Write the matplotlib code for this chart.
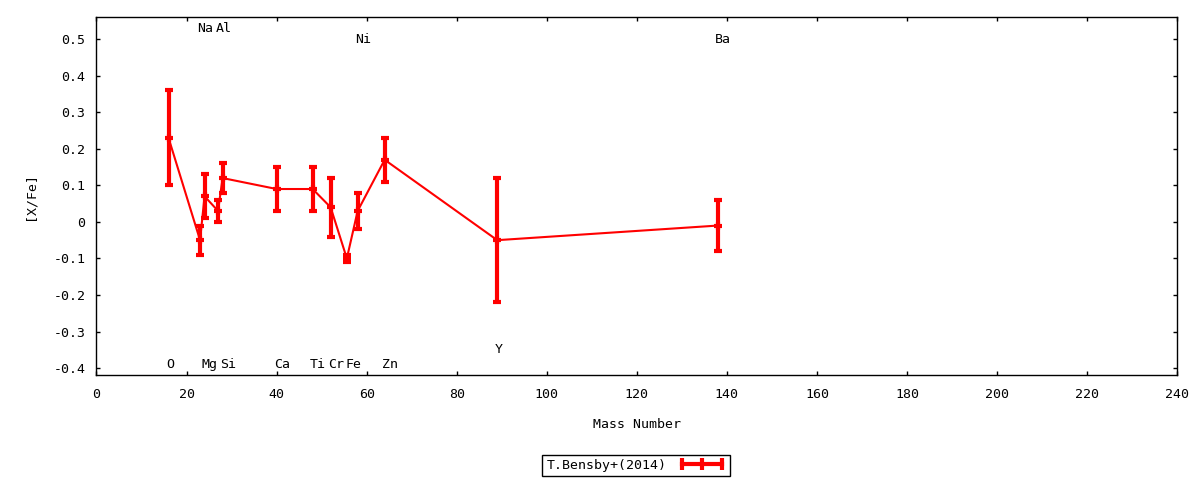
import numpy as np
import matplotlib
matplotlib.use('Agg')
import matplotlib.pyplot as plt
from matplotlib.lines import Line2D
from matplotlib.ticker import MultipleLocator, FuncFormatter

# abundances (T.Bensby+ 2014)
elements = ['O', 'Na', 'Mg', 'Al', 'Si', 'Ca', 'Ti', 'Cr', 'Fe', 'Ni', 'Zn', 'Y', 'Ba']
mass = [16, 23, 24, 27, 28, 40, 48, 52, 55.6, 58, 64, 89, 138]
xfe = [0.23, -0.05, 0.07, 0.03, 0.12, 0.09, 0.09, 0.04, -0.10, 0.03, 0.17, -0.05, -0.01]
err = [0.13, 0.04, 0.06, 0.03, 0.04, 0.06, 0.06, 0.08, 0.01, 0.05, 0.06, 0.17, 0.07]

# element label heights (gnuplot style labels above / below the points)
label_y = [-0.39, 0.53, -0.39, 0.53, -0.39, -0.39, -0.39, -0.39, -0.39, 0.50, -0.39, -0.35, 0.50]

plt.rcParams['font.family'] = ['DejaVu Sans Mono']
plt.rcParams['font.size'] = 9.5

fig = plt.figure(figsize=(12, 4.8), dpi=100)
ax = fig.add_axes([0.0804, 0.218, 0.9006, 0.746])

ax.errorbar(mass, xfe, yerr=err, color='red', lw=1.5, elinewidth=3,
            capsize=3, capthick=3, marker='+', ms=6, mew=3)

for el, m, ly in zip(elements, mass, label_y):
    x = round(m)
    ax.annotate(el, (x, ly), xytext=(-2, 0), textcoords='offset points',
                ha='left', va='center', fontsize=9.5)

ax.set_xlim(0, 240)
ax.set_ylim(-0.42, 0.56)
ax.xaxis.set_major_locator(MultipleLocator(20))
ax.yaxis.set_major_locator(MultipleLocator(0.1))
ax.yaxis.set_major_formatter(FuncFormatter(lambda v, p: f'{round(v, 1):g}'))
ax.tick_params(direction='in', length=3, width=1, top=True, right=True)
ax.tick_params(axis='y', pad=8)
ax.tick_params(axis='x', pad=9)
for s in ax.spines.values():
    s.set_linewidth(1)

ax.set_xlabel('Mass Number', labelpad=12)
ax.set_ylabel('[X/Fe]', labelpad=12)

handle = Line2D([], [], color='red', lw=3, marker='|', ms=8, mew=3)
leg = fig.legend([handle], ['T.Bensby+(2014)'], loc='center',
                 bbox_to_anchor=(0.53, 0.031), numpoints=3, markerfirst=False,
                 fancybox=False, framealpha=1, edgecolor='black',
                 handlelength=3.6, borderpad=0.3, handletextpad=0.9,
                 borderaxespad=0)
leg.get_frame().set_linewidth(1)

plt.savefig('out.png')
